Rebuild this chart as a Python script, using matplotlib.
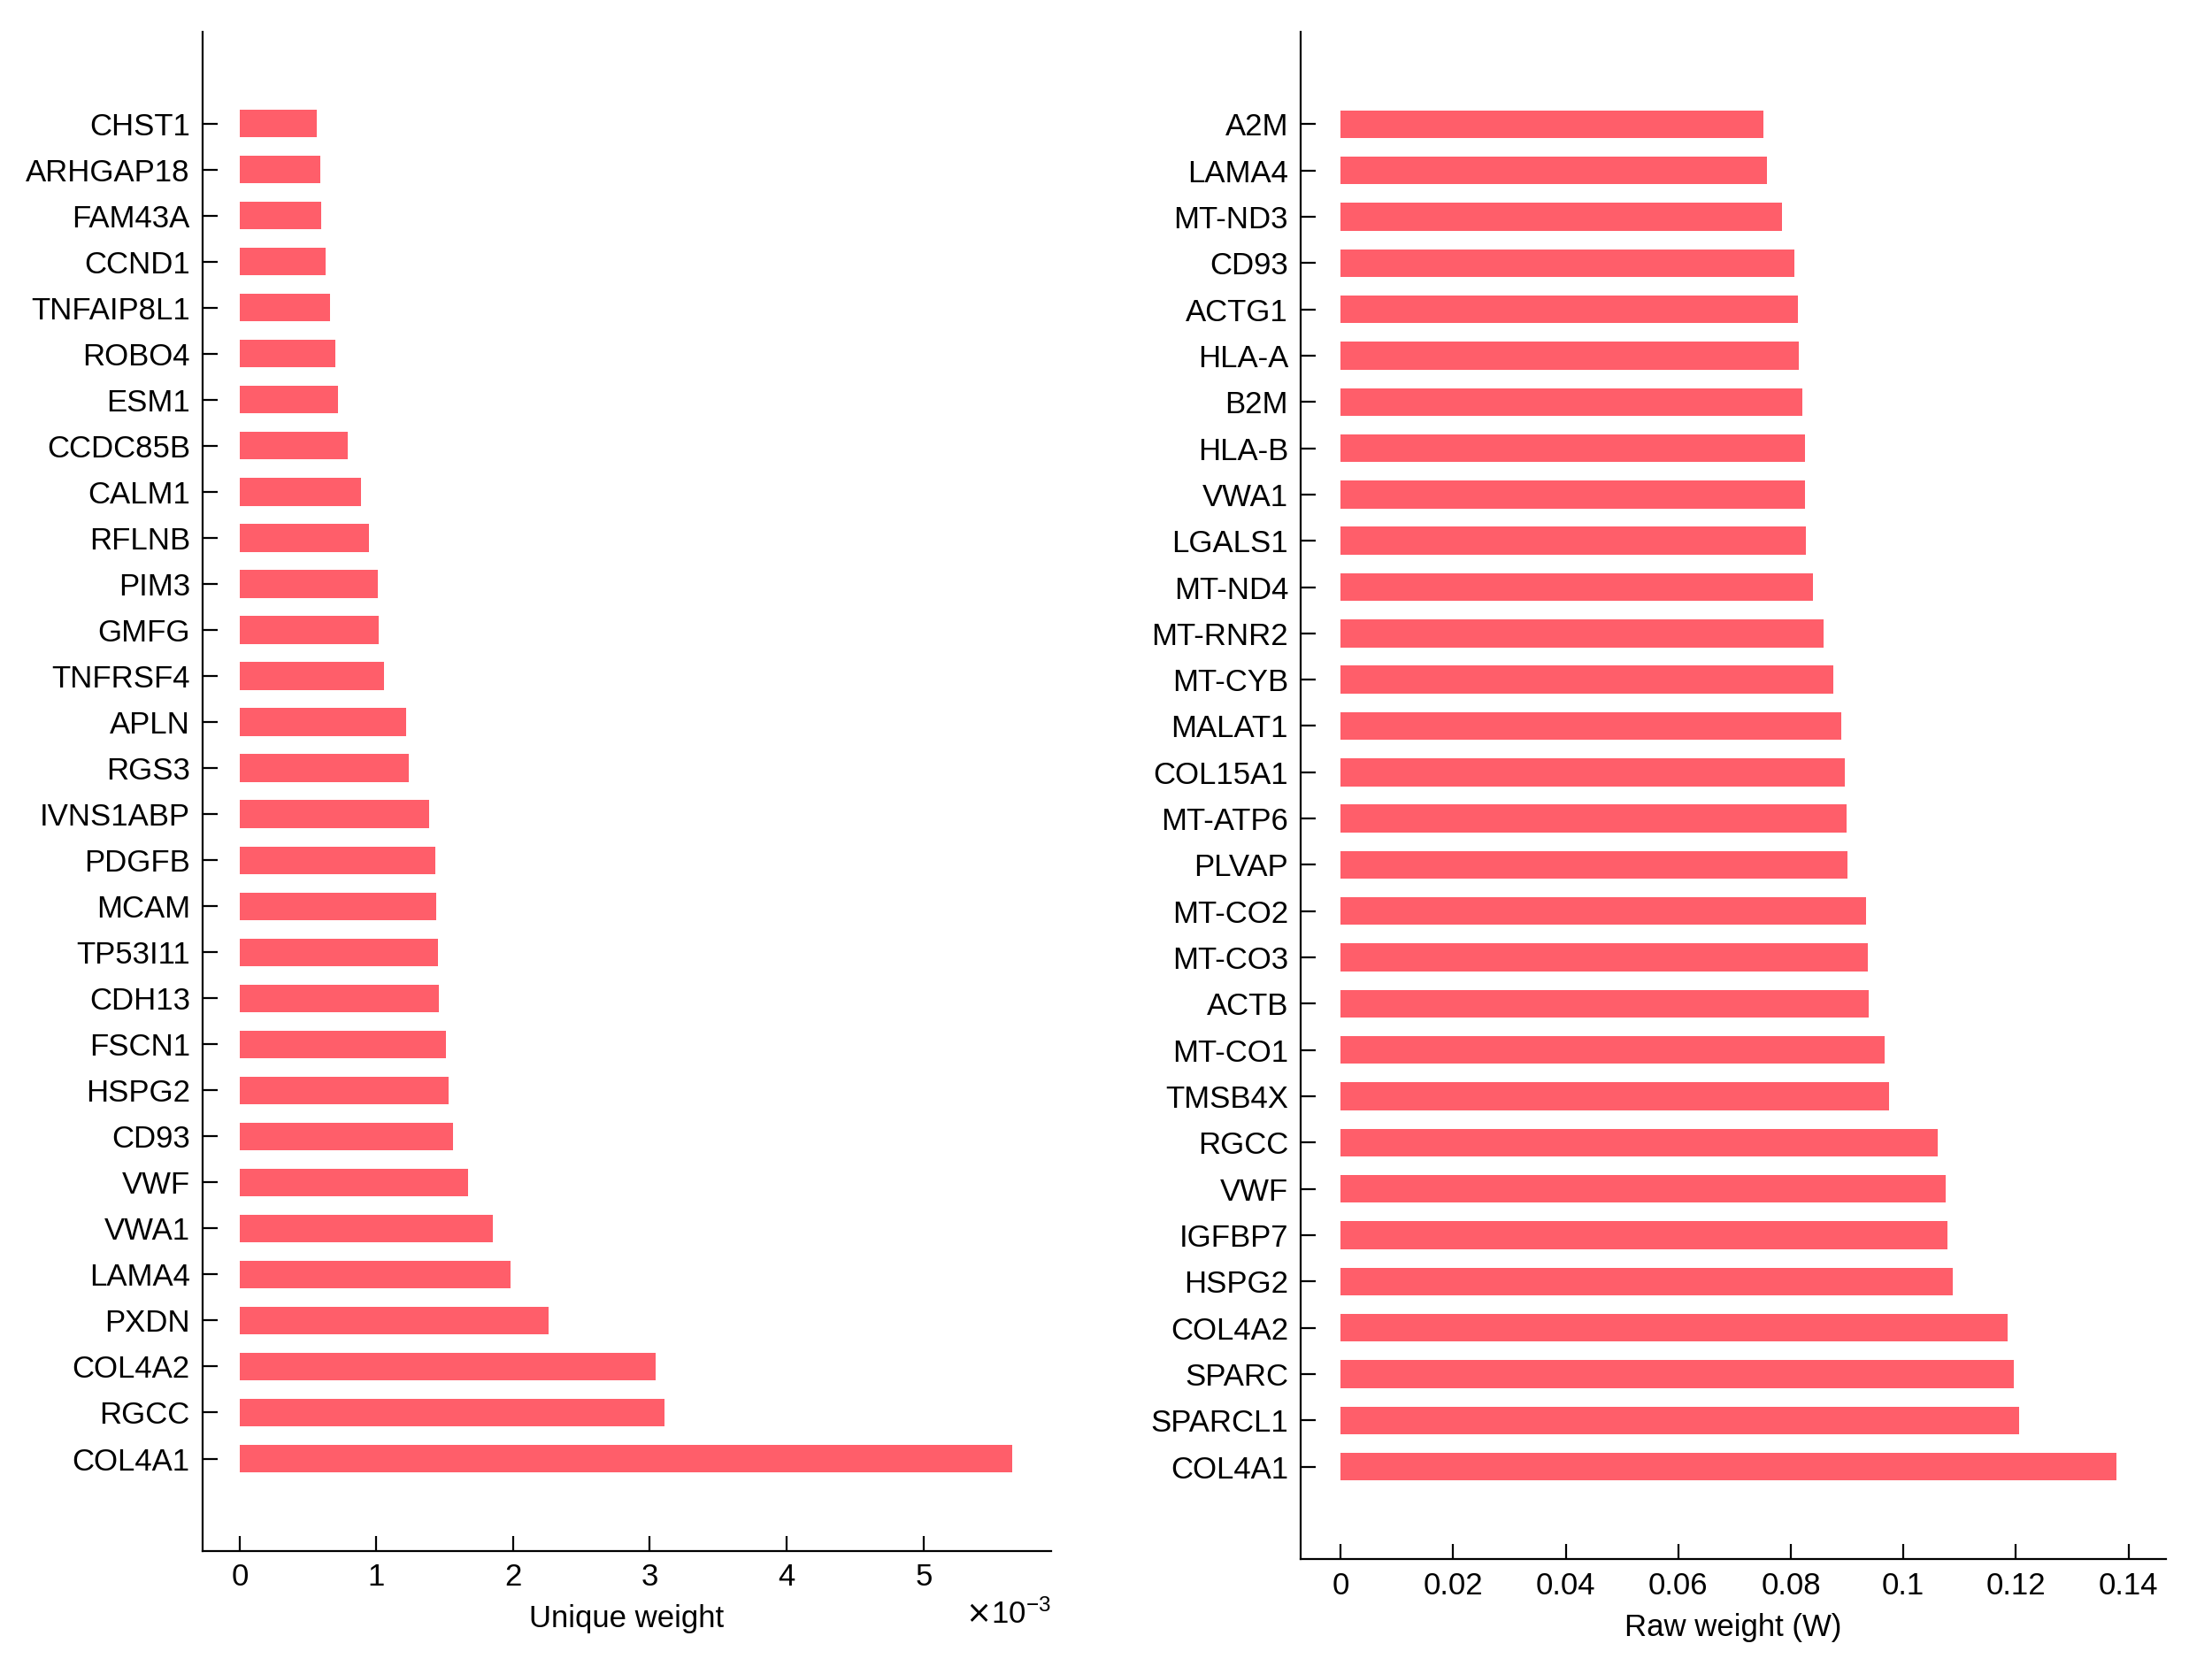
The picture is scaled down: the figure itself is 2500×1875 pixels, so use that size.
import numpy as np
import matplotlib.pyplot as plt
from matplotlib.ticker import ScalarFormatter, FormatStrFormatter

plt.rcParams['font.family'] = ['Liberation Sans', 'DejaVu Sans']

# left panel: unique weight (top to bottom)
genes_unique = ['CHST1', 'ARHGAP18', 'FAM43A', 'CCND1', 'TNFAIP8L1', 'ROBO4', 'ESM1',
                'CCDC85B', 'CALM1', 'RFLNB', 'PIM3', 'GMFG', 'TNFRSF4', 'APLN', 'RGS3',
                'IVNS1ABP', 'PDGFB', 'MCAM', 'TP53I11', 'CDH13', 'FSCN1', 'HSPG2', 'CD93',
                'VWF', 'VWA1', 'LAMA4', 'PXDN', 'COL4A2', 'RGCC', 'COL4A1']
unique_w = [0.000566, 0.00059, 0.0006, 0.00063, 0.00066, 0.0007, 0.00072,
            0.00079, 0.00089, 0.00095, 0.00101, 0.00102, 0.00106, 0.00122, 0.00124,
            0.00139, 0.00143, 0.00144, 0.00145, 0.00146, 0.00151, 0.00153, 0.00156,
            0.00167, 0.00185, 0.00198, 0.00226, 0.00304, 0.00311, 0.00565]

# right panel: raw weight (W)
genes_raw = ['A2M', 'LAMA4', 'MT-ND3', 'CD93', 'ACTG1', 'HLA-A', 'B2M', 'HLA-B', 'VWA1',
             'LGALS1', 'MT-ND4', 'MT-RNR2', 'MT-CYB', 'MALAT1', 'COL15A1', 'MT-ATP6',
             'PLVAP', 'MT-CO2', 'MT-CO3', 'ACTB', 'MT-CO1', 'TMSB4X', 'RGCC', 'VWF',
             'IGFBP7', 'HSPG2', 'COL4A2', 'SPARC', 'SPARCL1', 'COL4A1']
raw_w = [0.0751, 0.0757, 0.0785, 0.0806, 0.0813, 0.0815, 0.0821, 0.0826, 0.0826,
         0.0827, 0.0839, 0.0859, 0.0875, 0.0890, 0.0896, 0.0899,
         0.0901, 0.0934, 0.0937, 0.0939, 0.0966, 0.0974, 0.1061, 0.1076,
         0.1078, 0.1088, 0.1186, 0.1196, 0.1206, 0.1378]

bar_color = '#ff5e6a'
fs = 12.5

fig = plt.figure(figsize=(12.5, 9.375), dpi=200)
ax1 = fig.add_axes([0.0915, 0.0653, 0.3835, 0.9157])
ax2 = fig.add_axes([0.588, 0.0601, 0.391, 0.9209])


def style(ax):
    for s in ['top', 'right']:
        ax.spines[s].set_visible(False)
    for s in ['left', 'bottom']:
        ax.spines[s].set_linewidth(0.8)
    ax.tick_params(direction='in', length=6, width=0.8, labelsize=fs)
    ax.tick_params(axis='y', pad=5)
    ax.tick_params(axis='x', pad=5)


n = len(genes_unique)
pos = np.arange(n, 0, -1)
ax1.barh(pos, unique_w, height=0.6, color=bar_color)
ax1.set_yticks(pos)
ax1.set_yticklabels(genes_unique)
ax1.set_ylim(-1, n + 2)
ax1.set_xlim(-0.27e-3, 5.93e-3)
ax1.set_xticks([0, 1e-3, 2e-3, 3e-3, 4e-3, 5e-3])
fmt = ScalarFormatter(useMathText=True)
fmt.set_powerlimits((-2, 2))
ax1.xaxis.set_major_formatter(fmt)
ax1.xaxis.get_offset_text().set_fontsize(fs)
ax1.set_xlabel('Unique weight', fontsize=fs, labelpad=5)
style(ax1)

m = len(genes_raw)
pos2 = np.arange(m, 0, -1)
ax2.barh(pos2, raw_w, height=0.6, color=bar_color)
ax2.set_yticks(pos2)
ax2.set_yticklabels(genes_raw)
ax2.set_ylim(-1, m + 2)
ax2.set_xlim(-0.0071, 0.1466)
ax2.set_xticks(np.arange(0, 0.141, 0.02))
ax2.xaxis.set_major_formatter(FormatStrFormatter('%g'))
ax2.set_xlabel('Raw weight (W)', fontsize=fs, labelpad=5)
style(ax2)

fig.savefig('out.png', dpi=200)
